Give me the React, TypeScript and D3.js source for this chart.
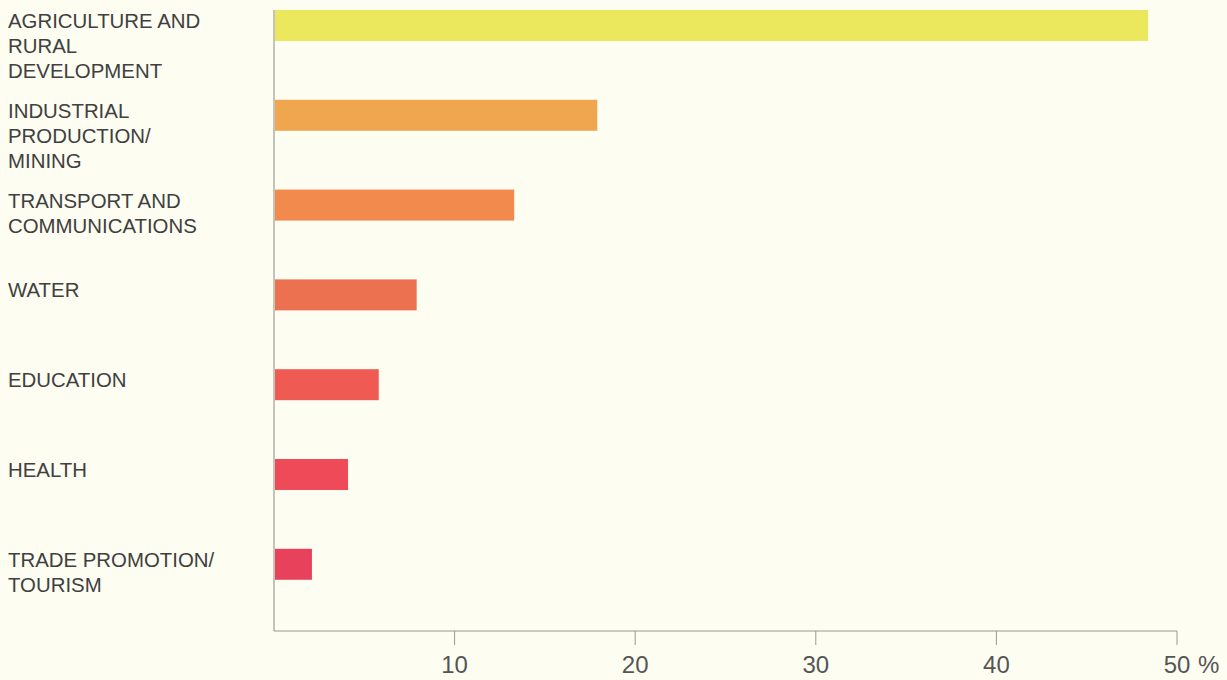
import React from "react";
import * as d3 from "d3";

const categories: string[][] = [
  ["AGRICULTURE AND", "RURAL", "DEVELOPMENT"],
  ["INDUSTRIAL", "PRODUCTION/", "MINING"],
  ["TRANSPORT AND", "COMMUNICATIONS"],
  ["WATER"],
  ["EDUCATION"],
  ["HEALTH"],
  ["TRADE PROMOTION/", "TOURISM"],
];
const values: number[] = [48.4, 17.9, 13.3, 7.9, 5.8, 4.1, 2.1];
const barColors: string[] = ["#ebe85e", "#f0a64e", "#f18a4c", "#ec7150", "#ef5a52", "#ee4a58", "#e8415c"];
const ticks: number[] = [10, 20, 30, 40, 50];

const W = 1227;
const H = 680;
const x0 = 274;
const x1 = 1177;
const axisY = 631;

export default function App() {
  const keys = categories.map((c) => c.join(" "));
  const x = d3.scaleLinear().domain([0, 50]).range([x0, x1]);
  const step = 89.8;
  const pi = 0.655;
  const y = d3
    .scaleBand<string>()
    .domain(keys)
    .range([10, 10 + step * (keys.length - pi)])
    .paddingInner(pi)
    .paddingOuter(0);

  const font = "'Liberation Sans', Arial, Helvetica, sans-serif";

  return (
    <svg
      width={W}
      height={H}
      style={{ position: "absolute", left: 0, top: 0 }}
      viewBox={`0 0 ${W} ${H}`}
    >
      <rect x={0} y={0} width={W} height={H} fill="#fdfdf2" />
      {keys.map((k, i) => (
        <g key={k}>
          <rect
            x={x(0) + 1}
            y={y(k)!}
            width={x(values[i]) - x(0) - 1}
            height={y.bandwidth()}
            fill={barColors[i]}
          />
          <text
            x={8}
            y={y(k)! + 18}
            fontFamily={font}
            fontSize={20.4}
            fill="#404040"
          >
            {categories[i].map((line, j) => (
              <tspan key={j} x={8} dy={j === 0 ? 0 : 25}>
                {line}
              </tspan>
            ))}
          </text>
        </g>
      ))}
      <line x1={x0} x2={x0} y1={10} y2={axisY} stroke="#8a8a80" strokeWidth={1} />
      <line x1={x0} x2={x1} y1={axisY} y2={axisY} stroke="#9a9a88" strokeWidth={1} />
      {ticks.map((t) => (
        <g key={t}>
          <line x1={x(t)} x2={x(t)} y1={axisY} y2={axisY + 14} stroke="#9a9a88" strokeWidth={1} />
          <text
            x={x(t)}
            y={673}
            textAnchor="middle"
            fontFamily={font}
            fontSize={24}
            fill="#555"
          >
            {t}
          </text>
          {t === 50 && (
            <text x={x(t) + 21} y={673} fontFamily={font} fontSize={24} fill="#555">
              %
            </text>
          )}
        </g>
      ))}
    </svg>
  );
}
